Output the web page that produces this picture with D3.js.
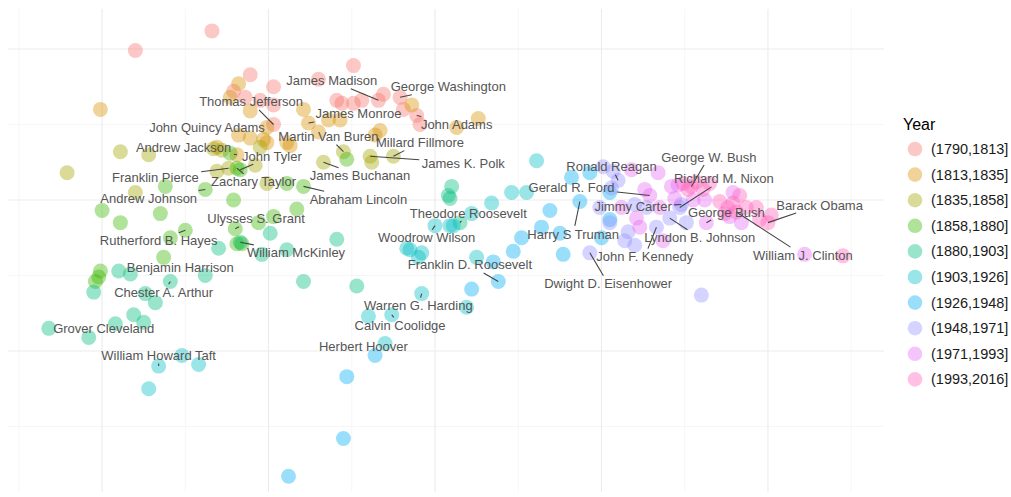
<!DOCTYPE html>
<html>
<head>
<meta charset="utf-8">
<script src="https://cdn.jsdelivr.net/npm/d3@7"></script>
<style>
  body { margin: 0; background: #fff; }
  text { font-family: "Liberation Sans", Arial, sans-serif; }
</style>
</head>
<body>
<div id="chart"></div>
<script>
"use strict";

// year bins (legend) and colours
var periods = ["(1790,1813]", "(1813,1835]", "(1835,1858]", "(1858,1880]", "(1880,1903]",
               "(1903,1926]", "(1926,1948]", "(1948,1971]", "(1971,1993]", "(1993,2016]"];
var periodColors = ["#F8766D", "#D89000", "#A3A500", "#39B600", "#00BF7D",
                    "#00BFC4", "#00B0F6", "#9590FF", "#E76BF3", "#FF62BC"];

// grid ticks
var majorX = [-20, -10, 0, 10, 20];
var minorX = [-25, -15, -5, 5, 15, 25];
var majorY = [-10, 0, 10];
var minorY = [-15, -5, 5];

// speech coordinates, one array per period
var p1790 = [[-13.4,11.2],[-18.0,9.9],[-11.1,8.3],[-9.7,7.5],[-12.1,7.2],[-11.4,6.8],[-10.5,6.6],[-9.7,6.3],
  [-9.7,5.0],[-7.0,8.0],[-4.9,8.9],[-5.9,6.6],[-5.6,6.4],[-4.9,6.4],[-4.4,6.6],[-3.4,6.6],[-3.1,7.0],
  [-2.1,6.8],[-1.9,6.0],[-1.1,5.6],[-0.9,5.0]];
var p1813 = [[-20.1,6.0],[-11.8,7.7],[-12.3,6.8],[-11.1,5.9],[-7.9,6.0],[-7.6,5.1],[-6.4,5.3],[-5.7,5.3],
  [-3.3,4.6],[-3.6,4.3],[-10.1,4.8],[-10.3,4.0],[-10.1,3.8],[-11.8,4.3],[-11.1,4.1],[-8.9,3.8],[-8.7,3.6],
  [2.6,5.4],[1.3,4.8],[-1.4,6.3],[-13.1,3.5],[-7.0,4.5],[-11.9,3.0]];
var p1835 = [[-22.1,1.8],[-18.9,3.2],[-17.2,3.0],[-18.0,0.5],[-13.3,3.4],[-13.1,1.9],[-10.8,2.3],[-10.1,1.1],
  [-10.5,3.5],[-5.5,3.2],[-6.7,2.5],[-3.9,2.9],[-3.8,2.5],[-2.5,2.9],[-12.8,3.3],[-12.4,2.1]];
var p1858 = [[-11.9,2.1],[-11.7,2.0],[-12.3,3.1],[-5.3,2.7],[-16.2,0.9],[-13.8,0.7],[-12.1,0.0],[-20.0,-0.7],
  [-18.9,-1.5],[-16.5,-0.9],[-8.9,1.1],[-7.9,0.9],[-8.3,-0.6],[-15.0,-2.0],[-15.9,-2.5],[-12.0,-1.9],
  [-10.6,-1.5],[-9.7,-1.1],[-11.9,-2.9],[-11.6,-2.9],[-16.3,-3.8],[-20.1,-4.7],[-20.4,-5.4],[-20.2,-5.1]];
var p1880 = [[-23.2,-8.5],[-20.8,-9.1],[-19.0,-4.7],[-18.3,-4.9],[-20.5,-6.1],[-17.4,-6.2],[-16.8,-6.8],
  [-18.1,-7.6],[-17.5,-8.1],[-19.2,-8.2],[-15.9,-5.4],[-13.8,-5.0],[-13.0,-3.2],[-11.7,-2.8],[-10.4,-3.6],
  [-8.9,-3.3],[-9.9,-2.2],[-5.9,-2.6],[-7.9,-5.4],[-4.7,-5.7],[1.0,0.9],[0.8,0.3],[0.9,0.1],[1.5,-1.5]];
var p1903 = [[6.1,2.6],[4.6,0.5],[5.5,0.5],[3.4,-0.2],[2.2,-0.9],[0.0,-1.7],[0.9,-1.7],[1.1,-1.7],
  [-1.7,-3.2],[-1.5,-3.3],[-0.8,-3.5],[-1.0,-3.8],[2.5,-3.8],[1.9,-7.1],[-0.8,-6.2],[-2.6,-7.6],
  [-4.0,-7.7],[-3.0,-9.5],[-16.6,-11.0],[-15.2,-10.3],[-14.2,-10.9],[-17.2,-12.5]];
var p1926 = [[-3.6,-10.3],[-5.3,-11.7],[-5.5,-15.8],[-8.8,-18.3],[3.8,-5.4],[2.2,-5.9],[4.7,-3.4],
  [5.2,-2.5],[6.4,-1.8],[7.7,-3.6],[6.9,-0.7],[8.7,-0.1],[8.2,1.5],[9.3,1.8],[10.5,0.5],[10.0,-2.5],
  [10.5,-1.3],[7.5,-2.2],[3.5,-4.1]];
var p1948 = [[10.1,2.2],[11.0,1.3],[10.7,1.9],[10.6,0.8],[12.0,-0.3],[10.5,-1.5],[11.6,-2.1],[11.4,-2.7],
  [12.0,-3.0],[13.3,-1.8],[14.1,-1.2],[14.7,-0.5],[14.8,-0.3],[15.1,-1.5],[9.3,-3.5],[9.9,-0.5],
  [16.0,-6.3],[12.7,-0.5]];
var p1971 = [[11.8,2.0],[12.6,0.7],[12.9,0.3],[13.4,1.8],[12.1,-1.2],[12.3,-1.8],[13.7,-2.7],[14.2,0.9],
  [14.4,0.1],[15.5,0.0],[16.2,0.0],[16.3,-1.5],[18.4,-1.5],[17.9,0.5],[14.6,1.0],[13.5,-0.5],
  [11.2,-0.5],[22.2,-3.6],[17.7,-1.1]];
var p1993 = [[15.4,0.9],[15.7,1.2],[15.2,0.7],[16.1,0.7],[14.9,1.1],[17.1,-0.1],[17.6,-0.5],[17.9,-0.2],
  [18.7,-0.5],[19.3,-0.5],[18.1,-0.8],[19.5,-1.3],[20.0,-1.5],[20.2,-1.0],[17.4,-0.9],[24.5,-3.7],
  [16.5,1.1],[18.3,0.3]];
var periodPoints = [p1790, p1813, p1835, p1858, p1880, p1903, p1926, p1948, p1971, p1993];

// president labels: name, labelled speech (x, y), repelled label centre (x, y)
var presidentLabels = [
  ["James Madison", -3.4, 6.6, -6.2, 7.9],
  ["George Washington", -2.1, 6.8, 0.8, 7.5],
  ["Thomas Jefferson", -9.7, 5.0, -11.05, 6.5],
  ["James Monroe", -7.6, 5.1, -4.6, 5.7],
  ["John Adams", -1.1, 5.6, 1.3, 5.0],
  ["John Quincy Adams", -11.8, 4.3, -13.7, 4.8],
  ["Martin Van Buren", -5.5, 3.2, -6.4, 4.2],
  ["Andrew Jackson", -11.9, 3.0, -15.1, 3.5],
  ["Millard Fillmore", -2.5, 2.9, -0.9, 3.8],
  ["John Tyler", -11.7, 2.0, -9.8, 2.9],
  ["James K. Polk", -3.9, 2.9, 1.7, 2.45],
  ["Franklin Pierce", -12.4, 2.1, -16.8, 1.5],
  ["Zachary Taylor", -11.9, 2.1, -10.9, 1.2],
  ["James Buchanan", -6.7, 2.5, -4.5, 1.6],
  ["Andrew Johnson", -13.8, 0.7, -17.2, 0.1],
  ["Abraham Lincoln", -7.9, 0.9, -4.6, 0.05],
  ["Ulysses S. Grant", -12.0, -1.9, -10.75, -1.25],
  ["Rutherford B. Hayes", -15.0, -2.0, -16.6, -2.7],
  ["William McKinley", -11.7, -2.8, -8.35, -3.5],
  ["Benjamin Harrison", -13.8, -5.0, -15.3, -4.5],
  ["Chester A. Arthur", -15.9, -5.4, -16.3, -6.1],
  ["Grover Cleveland", -23.2, -8.5, -19.9, -8.5],
  ["William Howard Taft", -16.6, -11.0, -16.6, -10.3],
  ["Theodore Roosevelt", 1.5, -1.5, 2.0, -0.86],
  ["Woodrow Wilson", 0.0, -1.7, -0.5, -2.5],
  ["Franklin D. Roosevelt", 3.8, -5.4, 2.1, -4.3],
  ["Warren G. Harding", -0.8, -6.2, -1.0, -7.0],
  ["Calvin Coolidge", -2.6, -7.6, -2.1, -8.3],
  ["Herbert Hoover", -3.6, -10.3, -4.3, -9.7],
  ["Harry S Truman", 8.7, -0.1, 8.3, -2.25],
  ["Dwight D. Eisenhower", 9.3, -3.5, 10.4, -5.55],
  ["John F. Kennedy", 13.3, -1.8, 12.6, -3.75],
  ["Lyndon B. Johnson", 14.1, -1.2, 15.9, -2.5],
  ["Jimmy Carter", 14.8, -0.3, 11.9, -0.45],
  ["Ronald Reagan", 11.0, 1.3, 10.6, 2.2],
  ["Gerald R. Ford", 12.9, 0.3, 8.2, 0.85],
  ["George W. Bush", 15.4, 0.9, 16.45, 2.85],
  ["Richard M. Nixon", 14.7, -0.5, 17.35, 1.4],
  ["George Bush", 16.3, -1.5, 17.5, -0.8],
  ["William J. Clinton", 18.1, -0.8, 22.1, -3.65],
  ["Barack Obama", 20.0, -1.5, 23.1, -0.33]
];

var W = 1011, H = 497;
var svg = d3.select("#chart").append("svg")
  .attr("width", W)
  .attr("height", H);

// panel
var x = d3.scaleLinear().domain([-25.65, 26.97]).range([8, 884]);
var y = d3.scaleLinear().domain([-19.34, 12.65]).range([492, 9]);

var grid = svg.append("g");
grid.selectAll(".minx").data(minorX).enter().append("line")
  .attr("x1", d => x(d)).attr("x2", d => x(d))
  .attr("y1", y.range()[1]).attr("y2", y.range()[0])
  .attr("stroke", "#f4f4f4").attr("stroke-width", 0.8);
grid.selectAll(".miny").data(minorY).enter().append("line")
  .attr("y1", d => y(d)).attr("y2", d => y(d))
  .attr("x1", x.range()[0]).attr("x2", x.range()[1])
  .attr("stroke", "#f4f4f4").attr("stroke-width", 0.8);
grid.selectAll(".majx").data(majorX).enter().append("line")
  .attr("x1", d => x(d)).attr("x2", d => x(d))
  .attr("y1", y.range()[1]).attr("y2", y.range()[0])
  .attr("stroke", "#ebebeb").attr("stroke-width", 1.1);
grid.selectAll(".majy").data(majorY).enter().append("line")
  .attr("y1", d => y(d)).attr("y2", d => y(d))
  .attr("x1", x.range()[0]).attr("x2", x.range()[1])
  .attr("stroke", "#ebebeb").attr("stroke-width", 1.1);

// points, oldest first
var color = d3.scaleOrdinal().domain(periods).range(periodColors);
var pointData = [];
periodPoints.forEach(function(arr, i) {
  arr.forEach(function(p) { pointData.push({period: periods[i], x: p[0], y: p[1]}); });
});
svg.append("g").selectAll("circle")
  .data(pointData)
  .enter().append("circle")
    .attr("cx", d => x(d.x))
    .attr("cy", d => y(d.y))
    .attr("r", 7.5)
    .attr("fill", d => color(d.period))
    .attr("fill-opacity", 0.4);

// repelled labels with segments
var fontSize = 13;
var labels = svg.append("g");
var texts = labels.selectAll("text")
  .data(presidentLabels)
  .enter().append("text")
    .attr("x", d => x(d[3]))
    .attr("y", d => y(d[4]))
    .attr("dy", "0.35em")
    .attr("text-anchor", "middle")
    .style("font-size", fontSize + "px")
    .style("fill", "#555")
    .text(d => d[0]);

texts.each(function(d) {
  var w = this.getComputedTextLength();
  var cx = x(d[3]), cy = y(d[4]);
  var tx = x(d[1]), ty = y(d[2]);
  var hw = w / 2 + 2.5, hh = 8;
  var dx = tx - cx, dy = ty - cy;
  if (Math.abs(dx) <= hw && Math.abs(dy) <= hh) return;
  var s = Math.min(dx === 0 ? Infinity : hw / Math.abs(dx), dy === 0 ? Infinity : hh / Math.abs(dy));
  var sx = cx + s * dx, sy = cy + s * dy;
  if (Math.hypot(tx - sx, ty - sy) < 2) return;
  labels.insert("line", "text")
    .attr("x1", sx).attr("y1", sy)
    .attr("x2", tx).attr("y2", ty)
    .attr("stroke", "#444")
    .attr("stroke-width", 1.1);
});

// legend
var legend = svg.append("g").attr("transform", "translate(903,0)");
legend.append("text")
  .attr("x", 0).attr("y", 130)
  .style("font-size", "16px")
  .style("fill", "#000")
  .text("Year");
var item = legend.selectAll(".item")
  .data(periods)
  .enter().append("g")
    .attr("transform", (d, i) => "translate(0," + (149 + i * 25.6) + ")");
item.append("circle")
  .attr("cx", 12).attr("cy", 0).attr("r", 7.3)
  .attr("fill", d => color(d))
  .attr("fill-opacity", 0.4);
item.append("text")
  .attr("x", 28).attr("y", 0).attr("dy", "0.35em")
  .style("font-size", "14.5px")
  .style("fill", "#1a1a1a")
  .text(d => d);
</script>
</body>
</html>
